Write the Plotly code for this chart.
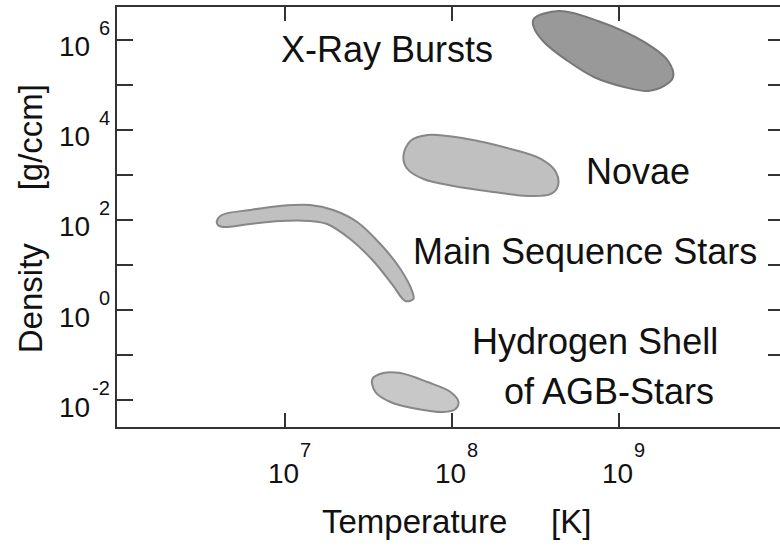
import plotly.graph_objects as go

# ---- data (log10 values) ----
xray_logT = [8.489, 8.640, 8.874, 9.150, 9.294, 9.324, 9.270, 9.174, 9.030, 8.850, 8.694, 8.550, 8.489]
xray_logRho = [6.467, 6.644, 6.422, 5.956, 5.533, 5.178, 4.978, 4.867, 4.956, 5.178, 5.533, 5.956, 6.289]

novae_logT = [7.751, 7.853, 8.093, 8.351, 8.532, 8.622, 8.634, 8.592, 8.453, 8.249, 8.009, 7.829, 7.733, 7.709]
novae_logRho = [3.756, 3.889, 3.800, 3.578, 3.356, 3.067, 2.756, 2.578, 2.533, 2.622, 2.756, 2.911, 3.133, 3.422]

ms_logT = [6.592, 6.622, 6.790, 6.970, 7.150, 7.288, 7.432, 7.571, 7.691, 7.763, 7.769, 7.721,
           7.649, 7.529, 7.390, 7.252, 7.150, 6.970, 6.790, 6.628, 6.598]
ms_logRho = [1.978, 2.111, 2.222, 2.311, 2.333, 2.222, 1.956, 1.467, 0.911, 0.400, 0.244, 0.200,
             0.533, 1.089, 1.578, 1.911, 1.978, 1.978, 1.911, 1.844, 1.889]

agb_logT = [7.523, 7.589, 7.691, 7.853, 7.991, 8.039, 8.021, 7.949, 7.793, 7.631, 7.541]
agb_logRho = [-1.533, -1.400, -1.400, -1.600, -1.822, -2.044, -2.200, -2.267, -2.200, -2.044, -1.822]

x_tick_exps = [7, 8, 9]
y_tick_exps = [6, 5, 4, 3, 2, 1, 0, -1, -2]
y_right_tick_exps = [6, 5, 4, 3, 2, 1, 0, -1]
y_label_exps = [6, 4, 2, 0, -2]

region_labels = ["X-Ray Bursts", "Novae", "Main Sequence Stars", "Hydrogen Shell", "of AGB-Stars"]
region_label_logT = [7.611, 9.114, 8.796, 8.856, 8.940]
region_label_logRho = [5.778, 3.067, 1.311, -0.711, -1.822]

x_range = [5.994, 9.964]
y_range = [-2.6, 6.733]

FONT = "Liberation Sans, Arial, Helvetica, sans-serif"
AXIS_COLOR = "#333333"

fig = go.Figure()


def blob(logT, logRho, fill, edge):
    xs = [10 ** v for v in logT] + [10 ** logT[0]]
    ys = [10 ** v for v in logRho] + [10 ** logRho[0]]
    fig.add_trace(go.Scatter(
        x=xs, y=ys, mode="lines", fill="toself", fillcolor=fill,
        line=dict(color=edge, width=2, shape="spline", smoothing=1.0),
        hoverinfo="skip", showlegend=False))


blob(xray_logT, xray_logRho, "#999999", "#777777")
blob(novae_logT, novae_logRho, "#c0c0c0", "#878787")
blob(ms_logT, ms_logRho, "#c0c0c0", "#878787")
blob(agb_logT, agb_logRho, "#c8c8c8", "#878787")

# invisible trace on the right axis so it renders
fig.add_trace(go.Scatter(x=[10 ** 7], y=[10 ** 0], yaxis="y2", mode="markers",
                         marker=dict(opacity=0), hoverinfo="skip", showlegend=False))

annotations = []
for e in x_tick_exps:
    annotations.append(dict(x=e, xref="x", y=0, yref="paper", text="10", showarrow=False,
                            xanchor="center", yanchor="middle", xshift=-2, yshift=-46,
                            font=dict(family=FONT, size=28, color="#111")))
    annotations.append(dict(x=e, xref="x", y=0, yref="paper", text=str(e), showarrow=False,
                            xanchor="left", yanchor="middle", xshift=13, yshift=-23,
                            font=dict(family=FONT, size=20, color="#111")))
for e in y_label_exps:
    annotations.append(dict(x=0, xref="paper", y=e, yref="y", text="10", showarrow=False,
                            xanchor="right", yanchor="middle", xshift=-25, yshift=-7,
                            font=dict(family=FONT, size=28, color="#111")))
    annotations.append(dict(x=0, xref="paper", y=e, yref="y", text=str(e), showarrow=False,
                            xanchor="right", yanchor="middle", xshift=-5, yshift=12,
                            font=dict(family=FONT, size=20, color="#111")))

for t, lx, ly in zip(region_labels, region_label_logT, region_label_logRho):
    annotations.append(dict(x=lx, xref="x", y=ly, yref="y", text=t, showarrow=False,
                            xanchor="center", yanchor="middle",
                            font=dict(family=FONT, size=36, color="#111")))

annotations += [
    dict(x=0.448, xref="paper", y=-0.226, yref="paper", text="Temperature", showarrow=False,
         xanchor="center", yanchor="middle", font=dict(family=FONT, size=33, color="#111")),
    dict(x=0.685, xref="paper", y=-0.226, yref="paper", text="[K]", showarrow=False,
         xanchor="center", yanchor="middle", font=dict(family=FONT, size=33, color="#111")),
    dict(x=-0.131, xref="paper", y=0.307, yref="paper", text="Density", showarrow=False,
         textangle=-90, xanchor="center", yanchor="middle",
         font=dict(family=FONT, size=33, color="#111")),
    dict(x=-0.131, xref="paper", y=0.690, yref="paper", text="[g/ccm]", showarrow=False,
         textangle=-90, xanchor="center", yanchor="middle",
         font=dict(family=FONT, size=33, color="#111")),
]

fig.update_layout(
    width=780, height=546,
    margin=dict(l=117, r=0, t=7, b=119),
    paper_bgcolor="white", plot_bgcolor="white",
    showlegend=False,
    xaxis=dict(type="log", range=x_range, showgrid=False, zeroline=False,
               showline=True, linecolor=AXIS_COLOR, linewidth=2, mirror="ticks",
               ticks="inside", ticklen=14, tickwidth=2, tickcolor=AXIS_COLOR,
               tickvals=[10 ** e for e in x_tick_exps], showticklabels=False),
    yaxis=dict(type="log", range=y_range, showgrid=False, zeroline=False,
               showline=True, linecolor=AXIS_COLOR, linewidth=2, mirror=False,
               ticks="inside", ticklen=16, tickwidth=2, tickcolor=AXIS_COLOR,
               tickvals=[10 ** e for e in y_tick_exps], showticklabels=False),
    yaxis2=dict(type="log", range=y_range, overlaying="y", side="right", anchor="x",
                showgrid=False, zeroline=False, showline=False,
                ticks="inside", ticklen=12, tickwidth=2, tickcolor=AXIS_COLOR,
                tickvals=[10 ** e for e in y_right_tick_exps], showticklabels=False),
    annotations=annotations,
)

fig.write_html("out.html", config={"displayModeBar": False},
               post_script="document.body.style.margin='0';document.body.style.overflow='hidden';")
